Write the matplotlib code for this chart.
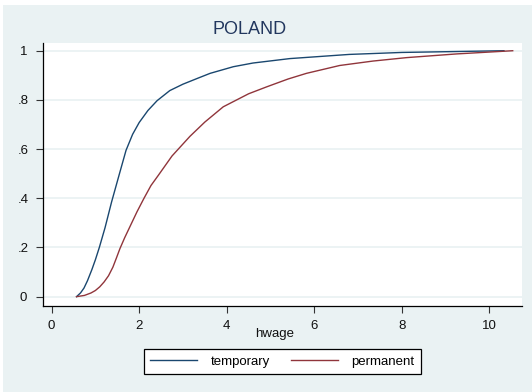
import matplotlib
matplotlib.use("Agg")
import matplotlib.pyplot as plt
from matplotlib.patches import Rectangle

plt.rcParams['font.family'] = ['Liberation Sans', 'DejaVu Sans']

# Cumulative distribution of hourly wage by contract type
temp_x = [0.57, 0.66, 0.74, 0.82, 0.92, 1.00, 1.09, 1.22, 1.37, 1.55, 1.70, 1.85,
          2.00, 2.20, 2.41, 2.70, 3.00, 3.35, 3.62, 4.15, 4.60, 5.44, 6.80, 8.00,
          9.00, 10.33]
temp_y = [0.0, 0.015, 0.035, 0.065, 0.11, 0.15, 0.2, 0.28, 0.385, 0.5, 0.595, 0.66,
          0.708, 0.757, 0.797, 0.838, 0.864, 0.889, 0.908, 0.935, 0.95, 0.968, 0.985,
          0.993, 0.996, 1.0]

perm_x = [0.57, 0.75, 0.90, 1.00, 1.10, 1.20, 1.30, 1.40, 1.48, 1.56, 1.67, 1.79,
          1.95, 2.11, 2.27, 2.44, 2.75, 3.16, 3.50, 3.92, 4.50, 4.91, 5.40, 5.82,
          6.58, 7.34, 8.11, 9.25, 10.53]
perm_y = [0.0, 0.005, 0.015, 0.025, 0.04, 0.06, 0.085, 0.12, 0.157, 0.195, 0.24, 0.285,
          0.345, 0.4, 0.452, 0.494, 0.572, 0.652, 0.71, 0.772, 0.825, 0.853, 0.885,
          0.908, 0.94, 0.958, 0.972, 0.987, 1.0]

series_names = ["temporary", "permanent"]
y_ticks = [0, 0.2, 0.4, 0.6, 0.8, 1.0]
y_tick_labels = ["0", ".2", ".4", ".6", ".8", "1"]
x_ticks = [0, 2, 4, 6, 8, 10]
x_tick_labels = ["0", "2", "4", "6", "8", "10"]

W, H = 532, 392
fig = plt.figure(figsize=(W / 100, H / 100), dpi=100, facecolor='white')

# light outer panel behind everything
fig.patches.append(Rectangle((3.4 / W, 0), 1, 1 - 5 / H, transform=fig.transFigure,
                             facecolor='#eaf2f3', edgecolor='none', zorder=-10))

left, right, top, bottom = 43.4, 521.9, 43.1, 306.0
ax = fig.add_axes([left / W, 1 - bottom / H, (right - left) / W, (bottom - top) / H])
ax.set_facecolor('white')

ax.set_xlim(-0.187, 10.74)
ax.set_ylim(-0.038, 1.031)

for yv in y_ticks:
    ax.axhline(yv, color='#eaf2f3', lw=1.3, zorder=1)

ax.plot(temp_x, temp_y, color='#1a476f', lw=1.0, label=series_names[0], zorder=3)
ax.plot(perm_x, perm_y, color='#90353b', lw=1.0, label=series_names[1], zorder=3)

for s in ['top', 'right']:
    ax.spines[s].set_visible(False)
for s in ['left', 'bottom']:
    ax.spines[s].set_color('black')
    ax.spines[s].set_linewidth(0.9)

ax.set_yticks(y_ticks)
ax.set_yticklabels(y_tick_labels)
ax.set_xticks(x_ticks)
ax.set_xticklabels(x_tick_labels)
ax.tick_params(axis='y', length=5, width=0.8, color='#333333', labelsize=9.5,
               pad=9.5, labelcolor='#111111')
for lab in ax.get_yticklabels():
    lab.set_horizontalalignment('center')
ax.tick_params(axis='x', length=5, width=0.8, color='#333333', labelsize=9.5,
               pad=5, labelcolor='#111111')

ax.set_xlabel("hwage", fontsize=9.5, color='#111111')
ax.xaxis.set_label_coords((275 - left) / (right - left), -(334 - bottom) / (bottom - top),
                          transform=ax.transAxes)
ax.xaxis.label.set_verticalalignment('center')

fig.text(250 / W, 1 - 29.7 / H, "POLAND", fontsize=13, color='#22375e',
         ha='center', va='center')

leg = fig.legend(loc='center', bbox_to_anchor=(282.3 / W, 1 - 361.5 / H), ncol=2,
                 fontsize=9.5, frameon=True, fancybox=False, edgecolor='black',
                 facecolor='white', framealpha=1, handlelength=3.6,
                 handletextpad=1.0, columnspacing=1.6, borderpad=0.45)
leg.get_frame().set_linewidth(0.9)

fig.savefig("out.png", dpi=100, facecolor='white')
